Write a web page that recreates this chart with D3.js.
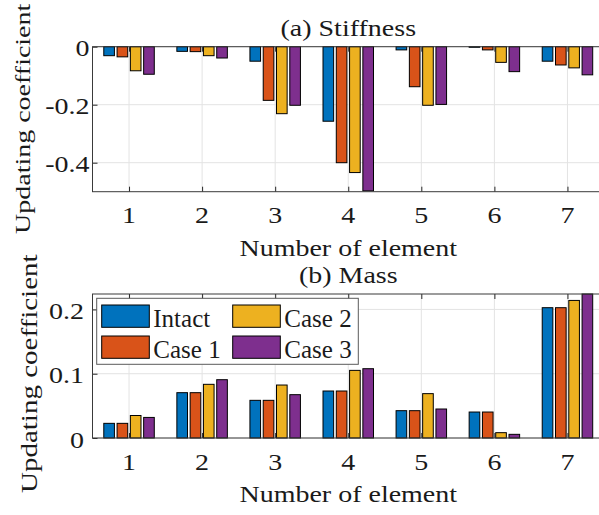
<!DOCTYPE html>
<html><head><meta charset="utf-8">
<script src="https://cdn.jsdelivr.net/npm/d3@7"></script>
<style>
body{margin:0;background:#fff;}
text{font-family:"Liberation Serif","Times New Roman",serif;fill:#1a1a1a;}
</style></head>
<body><svg id="c" width="599" height="515"></svg>
<script>
const elements = [1,2,3,4,5,6,7];
const seriesNames = ["Intact","Case 1","Case 2","Case 3"];
const colors = ["#0072BD","#D95319","#EDB120","#7E2F8E"];
// (a) Stiffness
const stiffIntact = [-0.031,-0.016,-0.050,-0.257,-0.011,-0.002,-0.050];
const stiffCase1  = [-0.035,-0.017,-0.185,-0.400,-0.138,-0.011,-0.063];
const stiffCase2  = [-0.083,-0.031,-0.231,-0.434,-0.202,-0.054,-0.073];
const stiffCase3  = [-0.095,-0.039,-0.202,-0.497,-0.199,-0.086,-0.097];
// (b) Mass
const massIntact = [0.0228,0.0705,0.0586,0.0731,0.0425,0.0404,0.2027];
const massCase1  = [0.0228,0.0705,0.0586,0.0731,0.0425,0.0404,0.2027];
const massCase2  = [0.0350,0.0835,0.0824,0.1052,0.0690,0.0083,0.2140];
const massCase3  = [0.0320,0.0907,0.0674,0.1078,0.0451,0.0057,0.2240];
const yTicksTop = [0,-0.2,-0.4];
const yTickLabelsTop = ["0","-0.2","-0.4"];
const yTicksBot = [0,0.1,0.2];
const yTickLabelsBot = ["0","0.1","0.2"];

const svg = d3.select("#c");
const FONT = 28;
const SQ = 0.8;

function panel(cfg){
  const g = svg.append("g");
  const x = d3.scaleLinear().domain([0.5,7.5]).range([92.5,604]);
  const y = d3.scaleLinear().domain(cfg.ydom).range(cfg.yrange);
  const top = cfg.yrange[1], bot = cfg.yrange[0];
  const L = x.range()[0], R = x.range()[1];
  // grid
  g.selectAll(".gx").data(elements).enter().append("line")
    .attr("x1",d=>x(d)).attr("x2",d=>x(d)).attr("y1",top).attr("y2",bot)
    .attr("stroke","#e3e3e3").attr("stroke-width",1);
  g.selectAll(".gy").data(cfg.yticks).enter().append("line")
    .attr("x1",L).attr("x2",R).attr("y1",d=>y(d)).attr("y2",d=>y(d))
    .attr("stroke","#e3e3e3").attr("stroke-width",1);
  // bars
  const gw = 4/(4+1.5), pitch = gw/4, bw = pitch*0.8;
  cfg.series.forEach((vals,j)=>{
    g.selectAll(".b"+j).data(vals).enter().append("rect")
      .attr("x",(d,i)=>x(elements[i]+(j-1.5)*pitch-bw/2))
      .attr("width",x(bw)-x(0))
      .attr("y",d=>Math.min(y(d),y(0)))
      .attr("height",d=>Math.abs(y(d)-y(0)))
      .attr("fill",colors[j]).attr("stroke","#000").attr("stroke-width",1);
  });
  // axes ticks (inward)
  const axB = d3.axisBottom(x).tickValues(elements).tickSize(-5).tickSizeOuter(0).tickFormat("");
  const axT = d3.axisTop(x).tickValues(elements).tickSize(-5).tickSizeOuter(0).tickFormat("");
  const axL = d3.axisLeft(y).tickValues(cfg.yticks).tickSize(-5).tickSizeOuter(0).tickFormat("");
  const axR = d3.axisRight(y).tickValues(cfg.yticks).tickSize(-5).tickSizeOuter(0).tickFormat("");
  [[axB,`translate(0,${bot})`],[axT,`translate(0,${top})`],[axL,`translate(${L},0)`],[axR,`translate(${R},0)`]].forEach(([a,t])=>{
    const ag = g.append("g").attr("transform",t).call(a);
    ag.select(".domain").remove();
    ag.selectAll("line").attr("stroke","#262626");
  });
  // box
  g.append("rect").attr("x",L).attr("y",top).attr("width",R-L).attr("height",bot-top)
    .attr("fill","none").attr("stroke","#3a3a3a").attr("stroke-width",1);
  // tick labels
  elements.forEach(d=>{
    g.append("text").attr("transform",`translate(${x(d)},${bot+cfg.xlabOff}) scale(1,${SQ})`)
      .attr("text-anchor","middle").attr("font-size",FONT).text(d);
  });
  cfg.yticks.forEach((d,i)=>{
    g.append("text").attr("transform",`translate(${cfg.ylabX},${y(d)+9.5}) scale(1,${SQ})`)
      .attr("text-anchor","end").attr("font-size",FONT).text(cfg.ylabels[i]);
  });
  // title, xlabel, ylabel
  g.append("text").attr("transform",`translate(${(L+R)/2},${cfg.titleY}) scale(1,0.86)`).attr("text-anchor","middle")
    .attr("font-size",FONT).text(cfg.title);
  g.append("text").attr("transform",`translate(${(L+R)/2},${bot+64}) scale(1,0.85)`).attr("text-anchor","middle")
    .attr("font-size",FONT).text("Number of element");
  g.append("text").attr("transform",`translate(${cfg.yLabelX},${cfg.yLabelY}) rotate(-90) scale(1,0.76)`)
    .attr("text-anchor","start").attr("font-size",cfg.yLabelSize).text("Updating coefficient");
  return {g,x,y};
}

panel({ydom:[-0.5,0], yrange:[191.7,46.7], yticks:yTicksTop, ylabels:yTickLabelsTop,
  series:[stiffIntact,stiffCase1,stiffCase2,stiffCase3], title:"(a) Stiffness", titleY:36,
  xlabOff:31.5, ylabX:89.5, yLabelX:30, yLabelY:234, yLabelSize:28});
panel({ydom:[0,0.224], yrange:[438,294], yticks:yTicksBot, ylabels:yTickLabelsBot,
  series:[massIntact,massCase1,massCase2,massCase3], title:"(b) Mass", titleY:283,
  xlabOff:32, ylabX:84, yLabelX:37, yLabelY:493, yLabelSize:29});

// legend
const lg = svg.append("g");
lg.append("rect").attr("x",96.7).attr("y",298.3).attr("width",261.6).attr("height",66)
  .attr("fill","#fff").attr("stroke","#5a5a5a").attr("stroke-width",1);
const colX = [101.7,232.7], rowY = [305,336];
const order = [[0,0,0],[1,0,1],[2,1,0],[3,1,1]];
order.forEach(([s,c,r])=>{
  lg.append("rect").attr("x",colX[c]).attr("y",rowY[r]).attr("width",47.6).attr("height",22.3)
    .attr("fill",colors[s]).attr("stroke","#000").attr("stroke-width",1);
  lg.append("text").attr("x",colX[c]+51.6).attr("y",rowY[r]+21.5).attr("font-size",25).text(seriesNames[s]);
});
</script></body></html>
